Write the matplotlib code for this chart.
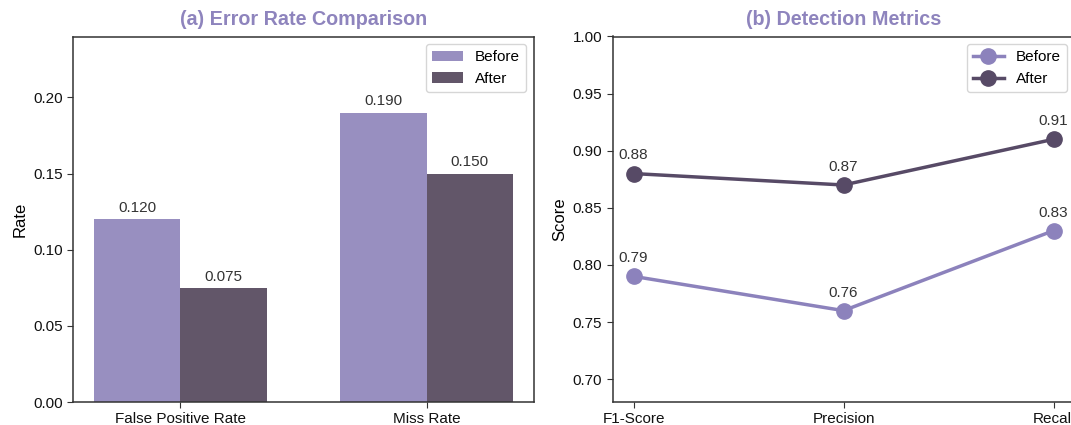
import matplotlib
matplotlib.use("Agg")
import matplotlib.pyplot as plt
import numpy as np

plt.rcParams['font.family'] = ['Liberation Sans', 'DejaVu Sans']

# Data
error_categories = ["False Positive Rate", "Miss Rate"]
error_before = [0.120, 0.190]
error_after = [0.075, 0.150]

metric_categories = ["F1-Score", "Precision", "Recall"]
metric_before = [0.79, 0.76, 0.83]
metric_after = [0.88, 0.87, 0.91]

series_labels = ["Before", "After"]

# Styles
bar_before_color = "#988fc0"
bar_after_color = "#625669"
line_before_color = "#8c82bc"
line_after_color = "#574a66"
title_color = "#8e84bd"
text_color = "#333333"
spine_color = "#333333"

W, H = 1071, 425
fig = plt.figure(figsize=(W/100, H/100), dpi=100)
ax1 = fig.add_axes([73/W, 23/H, 461/W, 365.5/H])
ax2 = fig.add_axes([612.5/W, 23/H, 462/W, 365.5/H])

# (a) bars
x = np.arange(len(error_categories))
w = 0.35
b1 = ax1.bar(x - w/2, error_before, w, color=bar_before_color, label=series_labels[0])
b2 = ax1.bar(x + w/2, error_after, w, color=bar_after_color, label=series_labels[1])
ax1.bar_label(b1, labels=[f"{v:.3f}" for v in error_before], padding=3, fontsize=11, color=text_color)
ax1.bar_label(b2, labels=[f"{v:.3f}" for v in error_after], padding=3, fontsize=11, color=text_color)
ax1.set_xticks(x)
ax1.set_xticklabels(error_categories)
ax1.set_ylim(0, 0.24)
ax1.set_yticks([0.00, 0.05, 0.10, 0.15, 0.20])
ax1.set_ylabel("Rate", fontsize=12)
ax1.set_title("(a) Error Rate Comparison", fontsize=14.2, fontweight="bold", color=title_color, pad=8)
ax1.legend(loc="upper right", fontsize=11, frameon=True, edgecolor="#cccccc", fancybox=True)

# (b) lines
xm = np.arange(len(metric_categories))
ax2.plot(xm, metric_before, "-o", color=line_before_color, lw=2.5, ms=11, label=series_labels[0])
ax2.plot(xm, metric_after, "-o", color=line_after_color, lw=2.5, ms=11, label=series_labels[1])
for xi, v in zip(xm, metric_before):
    ax2.annotate(f"{v:.2f}", (xi, v), xytext=(0, 8), textcoords="offset points",
                 ha="center", va="bottom", fontsize=11, color=text_color)
for xi, v in zip(xm, metric_after):
    ax2.annotate(f"{v:.2f}", (xi, v), xytext=(0, 8), textcoords="offset points",
                 ha="center", va="bottom", fontsize=11, color=text_color)
ax2.set_xticks(xm)
ax2.set_xticklabels(metric_categories)
ax2.set_xlim(-0.1, 2.1)
ax2.set_ylim(0.68, 1.00)
ax2.set_yticks([0.70, 0.75, 0.80, 0.85, 0.90, 0.95, 1.00])
ax2.set_ylabel("Score", fontsize=12)
ax2.set_title("(b) Detection Metrics", fontsize=14.2, fontweight="bold", color=title_color, pad=8)
ax2.legend(loc="upper right", fontsize=11, frameon=True, edgecolor="#cccccc", fancybox=True)

for ax in (ax1, ax2):
    for s in ax.spines.values():
        s.set_color(spine_color)
        s.set_linewidth(1.1)
    ax.tick_params(axis="both", labelsize=11, direction="out", length=4, color=spine_color, labelcolor="#111111")

fig.savefig("out.png", dpi=100)
